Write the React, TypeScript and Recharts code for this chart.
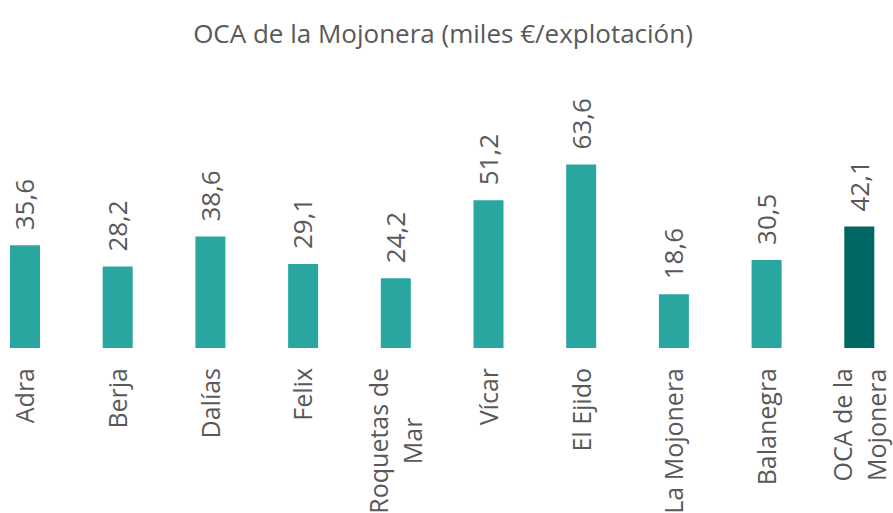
import React from 'react';
import { BarChart, Bar, XAxis, YAxis, Cell, LabelList } from 'recharts';

// Datos del gráfico
const categories = [
  'Adra',
  'Berja',
  'Dalías',
  'Felix',
  'Roquetas de Mar',
  'Vícar',
  'El Ejido',
  'La Mojonera',
  'Balanegra',
  'OCA de la Mojonera',
];
const values = [35.6, 28.2, 38.6, 29.1, 24.2, 51.2, 63.6, 18.6, 30.5, 42.1];
const highlighted = 'OCA de la Mojonera';
const title = 'OCA de la Mojonera (miles €/explotación)';

const data = categories.map((name, i) => ({ name, value: values[i] }));

const TEXT = '#595959';
const FONT = "'Open Sans', sans-serif";
const TEAL = '#29a69f';
const DARK = '#016762';

const CAT_SIZE = 25;
const LINE_H = 34;

// mide el ancho del texto para centrar las etiquetas de varias líneas
let ctx: CanvasRenderingContext2D | null = null;
const measure = (s: string, size: number) => {
  if (!ctx) ctx = document.createElement('canvas').getContext('2d');
  if (!ctx) return s.length * size * 0.55;
  ctx.font = `${size}px 'Open Sans'`;
  return ctx.measureText(s).width;
};

// corta en líneas de 12 caracteres como máximo
const wrap = (s: string, max = 12) => {
  const lines: string[] = [];
  let cur = '';
  s.split(' ').forEach((w) => {
    const next = cur ? `${cur} ${w}` : w;
    if (next.length > max && cur) {
      lines.push(cur);
      cur = w;
    } else {
      cur = next;
    }
  });
  if (cur) lines.push(cur);
  return lines;
};

const CategoryTick = (props: any) => {
  const { x, y, payload } = props;
  const lines = wrap(String(payload.value));
  const w = Math.max(...lines.map((l) => measure(l, CAT_SIZE)));
  const cx = -(20 + w / 2);
  const n = lines.length;
  return (
    <g transform={`translate(${x},${y}) rotate(-90)`}>
      {lines.map((l, i) => (
        <text
          key={i}
          x={cx}
          y={(i - (n - 1) / 2) * LINE_H}
          dy="0.36em"
          textAnchor="middle"
          fill={TEXT}
          fontSize={CAT_SIZE}
          fontFamily={FONT}
        >
          {l}
        </text>
      ))}
    </g>
  );
};

const ValueLabel = (props: any) => {
  const { x, y, width, value } = props;
  const cx = x + width / 2;
  return (
    <text
      transform={`translate(${cx},${y - 15}) rotate(-90)`}
      x={0}
      y={0}
      dy="0.36em"
      textAnchor="start"
      fill={TEXT}
      fontSize={26}
      fontFamily={FONT}
    >
      {Number(value).toFixed(1).replace('.', ',')}
    </text>
  );
};

export default function App() {
  return (
    <div
      style={{
        position: 'absolute',
        left: 0,
        top: 0,
        width: 893,
        height: 513,
        overflow: 'hidden',
        background: '#fff',
      }}
    >
      <div
        style={{
          position: 'absolute',
          left: 0,
          top: 20,
          width: 886,
          textAlign: 'center',
          fontFamily: FONT,
          fontSize: 26,
          lineHeight: '26px',
          color: TEXT,
        }}
      >
        {title}
      </div>
      <div style={{ position: 'absolute', left: -21, top: 0 }}>
        <BarChart
          width={927}
          height={513}
          data={data}
          margin={{ top: 146, right: 0, left: 0, bottom: 0 }}
          barCategoryGap={0}
        >
          <XAxis
            dataKey="name"
            axisLine={false}
            tickLine={false}
            tickSize={0}
            tickMargin={0}
            interval={0}
            height={165}
            tick={<CategoryTick />}
          />
          <YAxis hide domain={[0, 70]} />
          <Bar dataKey="value" barSize={30} isAnimationActive={false}>
            {data.map((d) => (
              <Cell key={d.name} fill={d.name === highlighted ? DARK : TEAL} />
            ))}
            <LabelList dataKey="value" content={<ValueLabel />} />
          </Bar>
        </BarChart>
      </div>
    </div>
  );
}
